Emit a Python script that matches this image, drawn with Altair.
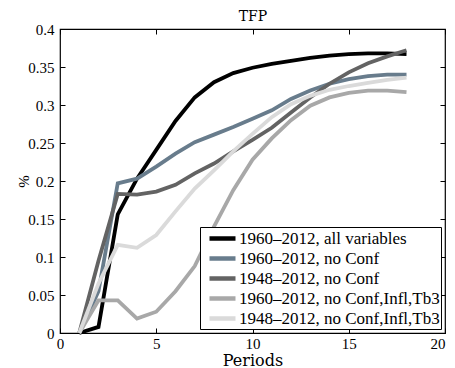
import altair as alt
import pandas as pd

periods = list(range(1, 19))
series_names = [
    "1960–2012, all variables",
    "1960–2012, no Conf",
    "1948–2012, no Conf",
    "1960–2012, no Conf,Infl,Tb3",
    "1948–2012, no Conf,Infl,Tb3",
]
series_colors = ["#000000", "#687c8c", "#636363", "#a8a8a8", "#dadada"]

all_vars_60 = [0, 0.008, 0.156, 0.203, 0.241, 0.279, 0.310, 0.330, 0.342, 0.349,
               0.354, 0.358, 0.362, 0.365, 0.367, 0.368, 0.368, 0.367]
noconf_60 = [0, 0.055, 0.197, 0.203, 0.219, 0.236, 0.251, 0.261, 0.271, 0.282,
             0.293, 0.308, 0.319, 0.328, 0.334, 0.338, 0.340, 0.340]
noconf_48 = [0, 0.095, 0.183, 0.182, 0.186, 0.195, 0.210, 0.223, 0.239, 0.254,
             0.270, 0.290, 0.310, 0.328, 0.343, 0.355, 0.364, 0.372]
noconf_infl_60 = [0, 0.043, 0.043, 0.019, 0.028, 0.055, 0.088, 0.140, 0.188, 0.228,
                  0.256, 0.280, 0.299, 0.310, 0.316, 0.319, 0.319, 0.317]
noconf_infl_48 = [0, 0.065, 0.116, 0.112, 0.129, 0.160, 0.190, 0.214, 0.239, 0.262,
                  0.284, 0.301, 0.312, 0.320, 0.325, 0.329, 0.333, 0.336]

x_ticks = [0, 5, 10, 15, 20]
y_ticks = [0, 0.05, 0.1, 0.15, 0.2, 0.25, 0.3, 0.35, 0.4]

all_series = [all_vars_60, noconf_60, noconf_48, noconf_infl_60, noconf_infl_48]
rows = []
for i, (name, vals) in enumerate(zip(series_names, all_series)):
    for p, v in zip(periods, vals):
        rows.append({"series": name, "ord": i, "period": p, "value": v})
df = pd.DataFrame(rows)

serif = "Liberation Serif"
wide = "DejaVu Serif"

xscale = alt.Scale(domain=[0, 20], nice=False)
yscale = alt.Scale(domain=[0, 0.4], nice=False)

main = alt.Chart(df).mark_line(strokeWidth=3.8, strokeJoin="miter").encode(
    x=alt.X("period:Q", scale=xscale,
            axis=alt.Axis(orient="bottom", values=x_ticks, title="Periods", offset=-5,
                          domain=False, tickSize=5, tickColor="black", labelPadding=3,
                          titlePadding=1, grid=False, labelFont=serif, labelFontSize=15,
                          labelColor="black", titleFont=wide, titleFontSize=16,
                          titleFontWeight="normal", titleColor="black", format="d",
                          labelFlush=False,
                          labelAlign={"condition": {"test": "datum.value == 20", "value": "right"},
                                      "value": "center"})),
    y=alt.Y("value:Q", scale=yscale,
            axis=alt.Axis(orient="left", values=y_ticks, title="%", offset=-5,
                          domain=False, tickSize=5, tickColor="black", labelPadding=6,
                          grid=False, labelFont=serif, labelFontSize=15, labelColor="black",
                          format="~g",
                          titleFont=serif, titleFontSize=15, titleFontWeight="normal",
                          titleColor="black", titleX=-42, titleY=152, titleAngle=-90,
                          titleBaseline="middle", titleAlign="center", labelFlush=False)),
    color=alt.Color("series:N", sort=series_names,
                    scale=alt.Scale(domain=series_names, range=series_colors),
                    legend=alt.Legend(title=None, orient="bottom-right", offset=4,
                                      strokeColor="black", fillColor="white", padding=1,
                                      symbolType="M-0.25,0H3", symbolStrokeWidth=4.5,
                                      symbolSize=256, labelFont=serif, labelFontSize=17,
                                      labelColor="black", labelLimit=400, rowPadding=0,
                                      labelOffset=17, cornerRadius=0)),
    order=alt.Order("ord:Q"),
    detail="series:N",
)

frame = alt.Chart(df).mark_line(strokeOpacity=0).encode(
    x=alt.X("period:Q", scale=xscale,
            axis=alt.Axis(orient="top", values=x_ticks, title="TFP", offset=-5,
                          domain=False, tickSize=5, tickColor="black", labels=False,
                          grid=False, titleFont=wide, titleFontSize=14,
                          titleFontWeight="normal", titleColor="black",
                          titleX=192.5, titleY=-13.5, titleAlign="center",
                          titleBaseline="alphabetic")),
    y=alt.Y("value:Q", scale=yscale,
            axis=alt.Axis(orient="right", values=y_ticks, title=None, offset=-5,
                          domain=False, tickSize=5, tickColor="black", labels=False,
                          grid=False)),
    detail="series:N",
)

chart = alt.layer(main, frame).resolve_axis(x="independent", y="independent").properties(
    width=385, height=304,
    autosize=alt.AutoSizeParams(type="none"),
    padding={"left": 52, "top": 21, "right": 2, "bottom": 35},
).configure(background="white").configure_view(stroke="black", strokeWidth=1.2)

chart.save("out.html", embed_options={"renderer": "svg", "actions": False})
